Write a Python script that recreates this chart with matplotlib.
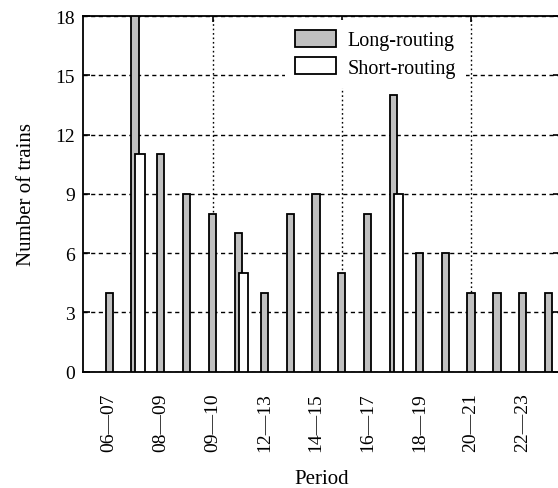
import numpy as np
import matplotlib
matplotlib.use('Agg')
import matplotlib.pyplot as plt

# Anzahl Zuege je Zeitraum
periods = ['06—07', '08—09', '09—10', '12—13', '14—15', '16—17', '18—19', '20—21', '22—23']
long_routing = [4, 18, 11, 9, 8, 7, 4, 8, 9, 5, 8, 14, 6, 6, 4, 4, 4, 4]
short_routing = [0, 11, 0, 0, 0, 5, 0, 0, 0, 0, 0, 9, 0, 0, 0, 0, 0, 0]

plt.rcParams['font.family'] = ['Liberation Serif', 'DejaVu Serif']

x = np.arange(1, len(long_routing) + 1)
short_x = [xi for xi, v in zip(x, short_routing) if v > 0]
short_v = [v for v in short_routing if v > 0]

fig = plt.figure(figsize=(5.58, 4.89), dpi=100)
ax = fig.add_axes([83.3 / 558, 1 - 372.7 / 489, 477 / 558, (372.7 - 17) / 489])

ax.bar(x, long_routing, width=0.28, color='#c0c0c0', edgecolor='black', linewidth=1.3,
       label='Long-routing', zorder=3)
ax.bar(np.array(short_x) + 0.2, short_v, width=0.37, color='white', edgecolor='black',
       linewidth=1.3, label='Short-routing', zorder=4)

ax.set_xlim(0, 18.45)
ax.set_ylim(0, 18)
ax.set_yticks(np.arange(0, 19, 3))
ax.xaxis.remove_overlapping_locs = False
ax.set_xticks(x[::2])
ax.set_xticklabels(periods, rotation=90, fontsize=14)
ax.tick_params(axis='x', which='major', length=0, pad=15)
ax.set_xticks([5, 10, 15], minor=True)
ax.tick_params(axis='x', which='minor', direction='in', length=4, width=1.2, top=True)
ax.tick_params(axis='y', direction='in', length=5, width=1.2, right=True, labelsize=14, pad=6)

ax.yaxis.grid(True, linestyle=(0, (3, 2.5)), color='black', linewidth=1.0, zorder=0)
ax.xaxis.grid(True, which='minor', linestyle=(0, (1.2, 2)), color='black', linewidth=1.0, zorder=0)

for s in ax.spines.values():
    s.set_linewidth(1.3)

ax.set_xlabel('Period', fontsize=15, labelpad=13)
ax.set_ylabel('Number of trains', fontsize=15, labelpad=14)

leg = ax.legend(loc='upper left', bbox_to_anchor=(0.415, 1.0), fontsize=14.5,
                frameon=True, fancybox=False, edgecolor='none', framealpha=1,
                handlelength=2.0, handleheight=0.9, handletextpad=0.6,
                borderaxespad=0.2, labelspacing=0.35, borderpad=0.5)
leg.set_zorder(10)

fig.savefig('out.png', dpi=100)
